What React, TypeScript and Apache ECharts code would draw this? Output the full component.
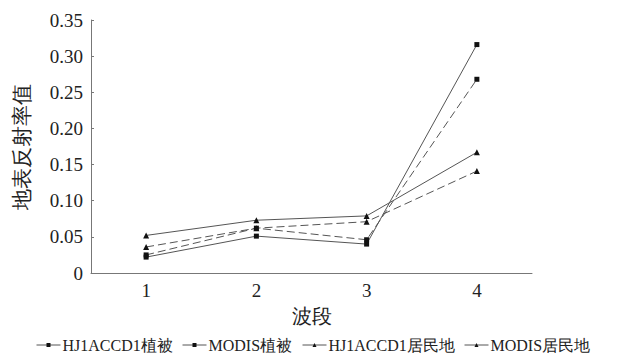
import React, { useEffect, useRef } from "react";
import * as echarts from "echarts";

const categories = ["1", "2", "3", "4"];
const yTicks = [0, 0.05, 0.1, 0.15, 0.2, 0.25, 0.3, 0.35];
const hjVeg = [0.022, 0.051, 0.040, 0.316];
const modisVeg = [0.025, 0.062, 0.046, 0.268];
const hjRes = [0.052, 0.073, 0.079, 0.167];
const modisRes = [0.036, 0.062, 0.071, 0.141];
const seriesNames = ["HJ1ACCD1植被", "MODIS植被", "HJ1ACCD1居民地", "MODIS居民地"];

const FONT = "\"Liberation Serif\", \"Times New Roman\", serif";

export default function App() {
  const ref = useRef<HTMLDivElement>(null);
  useEffect(() => {
    if (!ref.current) return;
    const chart = echarts.init(ref.current, undefined, { renderer: "svg" });
    const lineColor = "#555";
    const mk = (name: string, data: number[], dashed: boolean, symbol: string, size: number) => ({
      name,
      type: "line",
      data,
      symbol,
      symbolSize: size,
      showAllSymbol: true,
      itemStyle: { color: "#111" },
      lineStyle: { color: lineColor, width: 1, type: dashed ? [8, 4] : "solid" },
      emphasis: { disabled: true },
    });
    const legendLefts = [36, 182, 302, 464];
    chart.setOption({
      animation: false,
      textStyle: { fontFamily: FONT },
      grid: { left: 91, right: 85, top: 20, bottom: 80, containLabel: false },
      legend: seriesNames.map((n, i) => ({
        data: [n],
        left: legendLefts[i],
        top: 337,
        itemWidth: 24,
        itemHeight: 5,
        itemGap: 2,
        padding: 0,
        lineStyle: { type: "solid", color: lineColor, width: 1 },
        textStyle: { fontFamily: FONT, fontSize: 16, color: "#222", padding: [0, 0, 0, -3] },
      })),
      xAxis: {
        type: "category",
        data: categories,
        boundaryGap: true,
        name: "波段",
        nameLocation: "middle",
        nameGap: 33,
        nameTextStyle: { fontFamily: FONT, fontSize: 20, color: "#222" },
        axisLine: { lineStyle: { color: "#777", width: 1 } },
        axisTick: { inside: true, length: 3, lineStyle: { color: "#777" } },
        axisLabel: { fontFamily: FONT, fontSize: 19, color: "#222", margin: 8 },
      },
      yAxis: {
        type: "value",
        min: 0,
        max: 0.35,
        interval: 0.05,
        name: "地表反射率值",
        nameLocation: "middle",
        nameRotate: 90,
        nameGap: 59,
        nameTextStyle: { fontFamily: FONT, fontSize: 21, color: "#222" },
        axisLine: { show: true, lineStyle: { color: "#777", width: 1 } },
        axisTick: { show: true, inside: true, length: 3, lineStyle: { color: "#777" } },
        splitLine: { show: false },
        axisLabel: {
          fontFamily: FONT,
          fontSize: 19,
          color: "#222",
          margin: 8,
          formatter: (v: number) => {
            const t = yTicks.find((x) => Math.abs(x - v) < 1e-9);
            const val = t === undefined ? v : t;
            return val === 0 ? "0" : val.toFixed(2);
          },
        },
      },
      series: [
        mk(seriesNames[0], hjVeg, false, "rect", 5),
        mk(seriesNames[1], modisVeg, true, "rect", 5),
        mk(seriesNames[2], hjRes, false, "triangle", 6),
        mk(seriesNames[3], modisRes, true, "triangle", 6),
      ],
    });
    return () => chart.dispose();
  }, []);
  return <div ref={ref} style={{ width: 617, height: 353, position: "absolute", left: 0, top: 0 }} />;
}
